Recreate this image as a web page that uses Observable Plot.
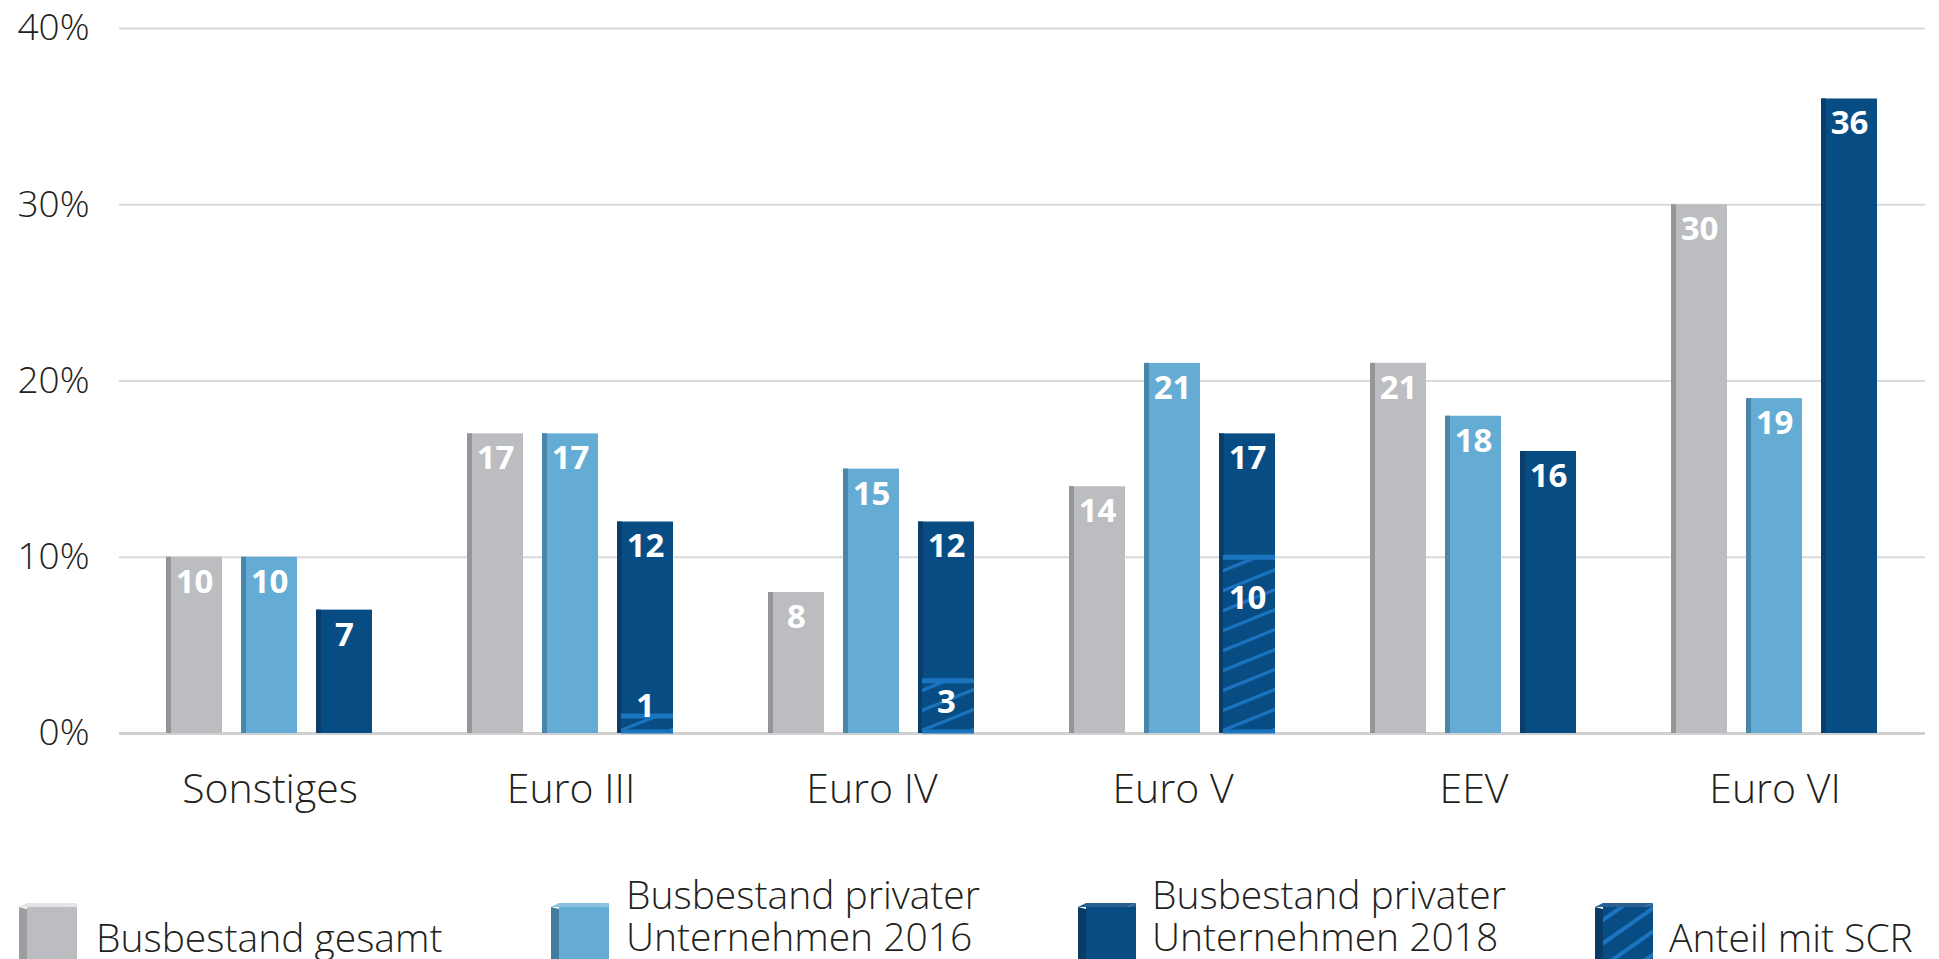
<!DOCTYPE html>
<html>
<head>
<meta charset="utf-8">
<script src="https://cdn.jsdelivr.net/npm/d3@7"></script>
<script src="https://cdn.jsdelivr.net/npm/@observablehq/plot@0.6"></script>
<style>
  body { margin: 0; background: #fff; font-family: "Open Sans", Lato, sans-serif; }
  #wrap { position: relative; width: 1939px; height: 959px; overflow: hidden; background: #fff; }
  #chart { position: absolute; left: 0; top: 0; }
  .sw { position: absolute; top: 900px; display: block; }
  .lbl { position: absolute; font-size: 39px; line-height: 42px; color: #231f20; font-weight: 300; white-space: nowrap; }
  g[aria-label^="fx-axis"] text { font-size: 41px; }
</style>
</head>
<body>
<div id="wrap">
  <div id="chart"></div>
  <div id="legend"></div>
</div>
<script>
// ---- data ----
const categories = ["Sonstiges", "Euro III", "Euro IV", "Euro V", "EEV", "Euro VI"];
const seriesNames = ["Busbestand gesamt", "Busbestand privater Unternehmen 2016", "Busbestand privater Unternehmen 2018"];
const legendLines = [["Busbestand gesamt"], ["Busbestand privater", "Unternehmen 2016"], ["Busbestand privater", "Unternehmen 2018"], ["Anteil mit SCR"]];
const gesamt     = [10, 17, 8, 14, 21, 30];
const privat2016 = [10, 17, 15, 21, 18, 19];
const privat2018 = [7, 12, 12, 17, 16, 36];
const anteilSCR  = [null, 1, 3, 10, null, null];
const yTicks = [0, 10, 20, 30, 40];

// ---- styles ----
const colors = ["#bcbdc0", "#65acd5", "#084c84"];
const edgeColors = ["#949598", "#4a86aa", "#0b3d6b"];
const hatchColor = "#1b74bf";

// ---- table ----
const seriesValues = [gesamt, privat2016, privat2018];
const table = [];
categories.forEach((c, i) => seriesNames.forEach((s, j) => table.push({cat: c, series: s, idx: j, value: seriesValues[j][i]})));
const scrRows = categories.map((c, i) => ({cat: c, series: seriesNames[2], scr: anteilSCR[i]})).filter(d => d.scr != null);

const marks = [
  Plot.ruleY(yTicks.filter(t => t > 0), {stroke: "#dadada", strokeWidth: 2}),
  Plot.ruleY([0], {stroke: "#d0d0d0", strokeWidth: 3})
];
seriesNames.forEach((s, j) => {
  const rows = table.filter(d => d.idx === j);
  marks.push(Plot.barY(rows, {fx: "cat", x: "series", y: "value", fill: colors[j]}));
  marks.push(Plot.barY(rows, {fx: "cat", x: "series", y: "value", fill: edgeColors[j], insetRight: 51}));
});
marks.push(
  Plot.barY(scrRows, {fx: "cat", x: "series", y: "scr", fill: "url(#scrHatch)", insetLeft: 4}),
  Plot.tickY(scrRows, {fx: "cat", x: "series", y: "scr", stroke: hatchColor, strokeWidth: 5, insetLeft: 4}),
  Plot.tickY(scrRows, {fx: "cat", x: "series", y: 0, dy: -2, stroke: hatchColor, strokeWidth: 4, insetLeft: 4}),
  Plot.text(table, {fx: "cat", x: "series", y: "value", text: d => String(d.value), fill: "white",
    fontSize: 33, fontWeight: 700, lineAnchor: "top", dy: 12, fontFamily: "Open Sans"}),
  Plot.text(scrRows, {fx: "cat", x: "series", y: d => Math.max(d.scr * 0.84, 2.27), text: d => String(d.scr), fill: "white",
    fontSize: 33, fontWeight: 700, lineAnchor: "top", dy: 0, fontFamily: "Open Sans"})
);

const svg = Plot.plot({
  width: 1939,
  height: 840,
  marginLeft: 119,
  marginRight: 14,
  marginTop: 28,
  marginBottom: 107,
  style: {fontFamily: "'Open Sans', sans-serif", fontSize: "37px", color: "#231f20", background: "white", fontWeight: 300},
  fx: {domain: categories, padding: 0, label: null, tickSize: 0, tickPadding: 40, axis: "bottom"},
  x: {domain: seriesNames, axis: null, paddingInner: 0.253, paddingOuter: 0.633},
  y: {domain: [0, 40], ticks: yTicks, tickFormat: d => d + "%", tickSize: 0, tickPadding: 30, label: null},
  marks
});

// hatch pattern definition
const ns = "http://www.w3.org/2000/svg";
const defs = document.createElementNS(ns, "defs");
defs.innerHTML = `<pattern id="scrHatch" patternUnits="userSpaceOnUse" width="20" height="18.5" patternTransform="rotate(-22)">
  <rect width="20" height="18.5" fill="${colors[2]}"></rect>
  <rect y="0" width="20" height="3.2" fill="${hatchColor}"></rect></pattern>`;
svg.insertBefore(defs, svg.firstChild);
document.getElementById("chart").appendChild(svg);

// ---- legend ----
const swatchLeft = [19, 551, 1078, 1595];
const textLeft = [96, 626, 1152, 1669];
const legend = document.getElementById("legend");
legendLines.forEach((lines, k) => {
  const front = k < 3 ? colors[k] : colors[2];
  const side = k === 0 ? "#9d9ea1" : k === 1 ? "#417d9f" : "#0a3a66";
  const top = k === 0 ? "#e2e3e4" : k === 1 ? "#8cc0df" : "#2a5f92";
  const frontFill = k === 3 ? "url(#legHatch)" : front;
  const sw = document.createElement("div");
  sw.className = "sw";
  sw.style.left = swatchLeft[k] + "px";
  sw.innerHTML = `<svg width="60" height="66" viewBox="0 0 60 66" style="display:block">
    <defs><pattern id="legHatch" patternUnits="userSpaceOnUse" width="20" height="19" patternTransform="rotate(-35)">
      <rect width="20" height="19" fill="${colors[2]}"></rect><rect width="20" height="4" fill="${hatchColor}"></rect></pattern></defs>
    <polygon points="0,7 8,3 58,3 50,7" fill="${top}"></polygon>
    <polygon points="0,7 8,9 8,66 0,64" fill="${side}"></polygon>
    <rect x="8" y="7" width="50" height="59" fill="${frontFill}"></rect>
    <polygon points="50,7 58,3 58,7" fill="${top}"></polygon>
  </svg>`;
  legend.appendChild(sw);
  const lbl = document.createElement("div");
  lbl.className = "lbl";
  lbl.style.left = textLeft[k] + "px";
  lbl.style.top = (lines.length === 2 ? 873 : 916) + "px";
  lbl.innerHTML = lines.join("<br>");
  legend.appendChild(lbl);
});
</script>
</body>
</html>
